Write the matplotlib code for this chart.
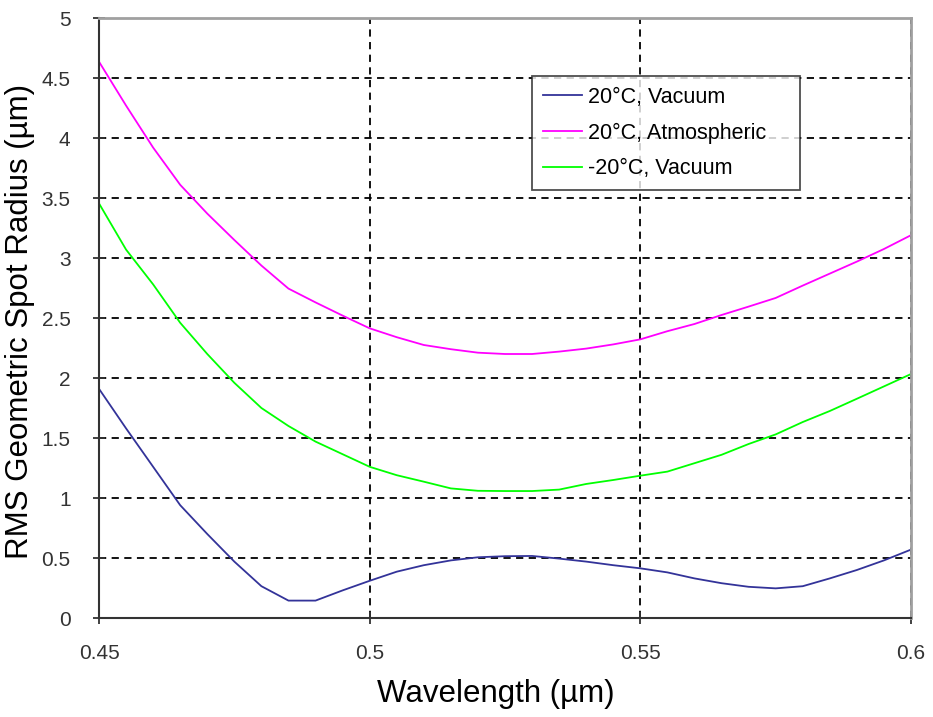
import matplotlib
matplotlib.use("Agg")
import matplotlib.pyplot as plt
import numpy as np

plt.rcParams['font.family'] = ['Liberation Sans', 'DejaVu Sans']

wavelength = [0.450, 0.455, 0.460, 0.465, 0.470, 0.475, 0.480, 0.485, 0.490, 0.495,
              0.500, 0.505, 0.510, 0.515, 0.520, 0.525, 0.530, 0.535, 0.540, 0.545,
              0.550, 0.555, 0.560, 0.565, 0.570, 0.575, 0.580, 0.585, 0.590, 0.595, 0.600]

vac_20 = [1.91, 1.58, 1.26, 0.94, 0.70, 0.47, 0.265, 0.145, 0.145, 0.23,
          0.31, 0.386, 0.44, 0.48, 0.506, 0.515, 0.517, 0.495, 0.47, 0.44,
          0.414, 0.38, 0.33, 0.29, 0.26, 0.247, 0.265, 0.33, 0.40, 0.48, 0.57]

atm_20 = [4.636, 4.27, 3.92, 3.61, 3.37, 3.15, 2.937, 2.745, 2.63, 2.52,
          2.414, 2.34, 2.275, 2.24, 2.211, 2.20, 2.20, 2.22, 2.245, 2.28,
          2.322, 2.39, 2.45, 2.525, 2.595, 2.667, 2.77, 2.87, 2.97, 3.075, 3.19]

vac_m20 = [3.455, 3.07, 2.78, 2.46, 2.20, 1.96, 1.75, 1.60, 1.47, 1.365,
           1.26, 1.19, 1.136, 1.08, 1.06, 1.058, 1.058, 1.07, 1.117, 1.15,
           1.186, 1.22, 1.29, 1.36, 1.45, 1.53, 1.633, 1.725, 1.827, 1.93, 2.033]

labels = ['20°C, Vacuum', '20°C, Atmospheric', '-20°C, Vacuum']
colors = ['#333399', '#ff00ff', '#00ff00']

x_ticks = [0.45, 0.5, 0.55, 0.6]
x_ticklabels = ['0.45', '0.5', '0.55', '0.6']
y_ticks = [0, 0.5, 1, 1.5, 2, 2.5, 3, 3.5, 4, 4.5, 5]
y_ticklabels = ['0', '0.5', '1', '1.5', '2', '2.5', '3', '3.5', '4', '4.5', '5']

fig = plt.figure(figsize=(9.33, 7.17), dpi=100)
ax = fig.add_axes([99/933, 1-618/717, (911-99)/933, (618-18)/717])

for ys, lab, c in zip([vac_20, atm_20, vac_m20], labels, colors):
    ax.plot(wavelength, ys, color=c, lw=1.3, label=lab)

ax.set_xlim(0.45, 0.6)
ax.set_ylim(0, 5)
ax.set_xticks(x_ticks)
ax.set_xticklabels(x_ticklabels)
ax.set_yticks(y_ticks)
ax.set_yticklabels(y_ticklabels)

ax.grid(True, color='black', linestyle=(0, (4, 3)), linewidth=1.3)
ax.set_axisbelow(True)

for s in ['left', 'bottom']:
    ax.spines[s].set_color('#333333')
    ax.spines[s].set_linewidth(1.5)
for s in ['top', 'right']:
    ax.spines[s].set_color('#a0a0a0')
    ax.spines[s].set_linewidth(2)

ax.tick_params(axis='both', direction='inout', length=9, width=1.3, color='#333333',
               labelsize=15, labelcolor='#333333')
ax.tick_params(axis='x', pad=14)
ax.tick_params(axis='y', pad=16)

ax.set_xlabel('Wavelength (µm)', fontsize=22.5)
ax.set_ylabel('RMS Geometric Spot Radius (µm)', fontsize=22.5)
ax.xaxis.set_label_coords((496-99)/812, -(694-618)/600, transform=ax.transAxes)
ax.yaxis.set_label_coords(-(99-20)/812, 0.495, transform=ax.transAxes)
ax.xaxis.label.set_va('center')
ax.yaxis.label.set_va('center')

leg = fig.legend(loc='upper left',
                 bbox_to_anchor=(532/933, 1-187/717, (800-532)/933, (187-76)/717),
                 mode='expand', borderaxespad=0,
                 fontsize=15.5, frameon=True, fancybox=False, edgecolor='#222222',
                 handlelength=1.8, handletextpad=0.3, labelspacing=0.68, borderpad=0.5)
leg.get_frame().set_linewidth(1.3)

fig.savefig('out.png', dpi=100, facecolor='white')
